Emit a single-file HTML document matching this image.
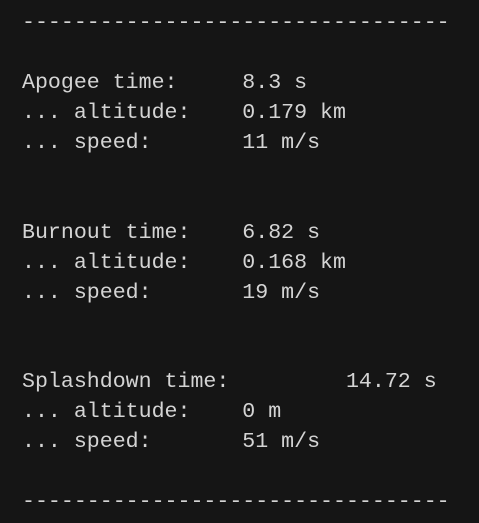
<!DOCTYPE html>
<html><head><meta charset="utf-8"><style>
html,body{margin:0;padding:0;background:#151515;width:479px;height:523px;overflow:hidden}
pre{position:absolute;left:22px;top:9px;margin:0;font-family:"Liberation Mono",monospace;font-size:21.6px;line-height:29.95px;color:#d4d4d4;white-space:pre}
</style></head><body>
<pre><span>---------------------------------</span>

<span>Apogee time:     8.3 s</span>
<span>... altitude:    0.179 km</span>
<span>... speed:       11 m/s</span>


<span>Burnout time:    6.82 s</span>
<span>... altitude:    0.168 km</span>
<span>... speed:       19 m/s</span>


<span>Splashdown time:         14.72 s</span>
<span>... altitude:    0 m</span>
<span>... speed:       51 m/s</span>

<span>---------------------------------</span></pre>
</body></html>
